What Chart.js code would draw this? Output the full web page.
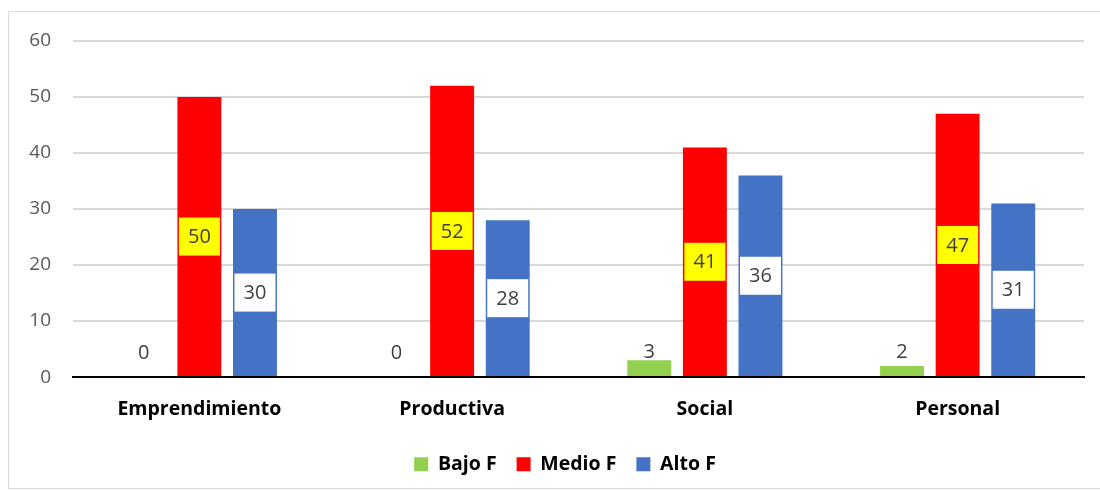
<!DOCTYPE html>
<html lang="es">
  <head>
    <meta charset="UTF-8" />
    <title>Niveles F</title>
    <style>
      body { margin: 0; background: #fff; }
      #frame { position: absolute; left: 8px; top: 11px; width: 1100px; height: 476px;
               border: 1px solid #d9d9d9; border-right: none; }
      #wrap { position: absolute; left: 0; top: 0; width: 1100px; height: 490px; }
    </style>
  </head>
  <body>
    <div id="frame"></div>
    <div id="wrap"><canvas id="myChart" width="1100" height="490"></canvas></div>
    <script src="https://cdn.jsdelivr.net/npm/chart.js"></script>
    <script>
      const categories = ["Emprendimiento", "Productiva", "Social", "Personal"];
      const bajo = [0, 0, 3, 2];
      const medio = [50, 52, 41, 47];
      const alto = [30, 28, 36, 31];

      const fontName = "'Open Sans', 'Noto Sans', sans-serif";

      // labels drawn like the excel ones: boxes in the middle for medio / alto, plain text for bajo
      const barLabels = {
        id: "barLabels",
        afterDatasetsDraw(chart) {
          const ctx = chart.ctx;
          ctx.save();
          ctx.font = "20px " + fontName;
          ctx.textAlign = "center";
          ctx.textBaseline = "middle";
          chart.data.datasets.forEach((ds, i) => {
            const meta = chart.getDatasetMeta(i);
            meta.data.forEach((bar, j) => {
              const txt = String(ds.data[j]);
              let cy;
              if (ds.boxColor) {
                cy = (bar.y + bar.base) / 2;
                ctx.fillStyle = ds.boxColor;
                ctx.fillRect(bar.x - 20.5, cy - 19, 41, 38);
              } else {
                cy = bar.base - 25;
              }
              ctx.fillStyle = "#404040";
              ctx.fillText(txt, bar.x, cy + 1);
            });
          });
          ctx.restore();
        },
      };

      // legend sits a bit right of the canvas centre in the original
      const legendShift = {
        id: "legendShift",
        afterLayout(chart) {
          chart.legend.left += 23;
          chart.legend.right += 23;
        },
      };

      const ctx = document.getElementById("myChart");
      new Chart(ctx, {
        type: "bar",
        data: {
          labels: categories,
          datasets: [
            { label: "Bajo F", data: bajo, backgroundColor: "#92D050" },
            { label: "Medio F", data: medio, backgroundColor: "#FF0000", boxColor: "#FFFF00" },
            { label: "Alto F", data: alto, backgroundColor: "#4472C4", boxColor: "#FFFFFF" },
          ],
        },
        options: {
          responsive: false,
          animation: false,
          devicePixelRatio: 1,
          categoryPercentage: 0.66,
          barPercentage: 0.79,
          layout: { padding: { top: 41, right: 16, bottom: 6, left: 0 } },
          plugins: {
            tooltip: { enabled: false },
            legend: {
              position: "bottom",
              labels: {
                boxWidth: 14,
                boxHeight: 14,
                padding: 20,
                color: "#000",
                font: { family: fontName, size: 19.5, weight: "bold" },
              },
            },
          },
          scales: {
            x: {
              grid: { display: false },
              border: { color: "#000", width: 2 },
              ticks: {
                color: "#000",
                padding: 13,
                font: { family: fontName, size: 19.5, weight: "bold" },
              },
            },
            y: {
              min: 0,
              max: 60,
              ticks: {
                stepSize: 10,
                color: "#595959",
                padding: 22,
                font: { family: fontName, size: 19 },
              },
              grid: { color: "#d9d9d9", lineWidth: 2, drawTicks: false },
              border: { display: false },
              afterFit(scale) { scale.width = 73; },
            },
          },
        },
        plugins: [barLabels, legendShift],
      });
    </script>
  </body>
</html>
